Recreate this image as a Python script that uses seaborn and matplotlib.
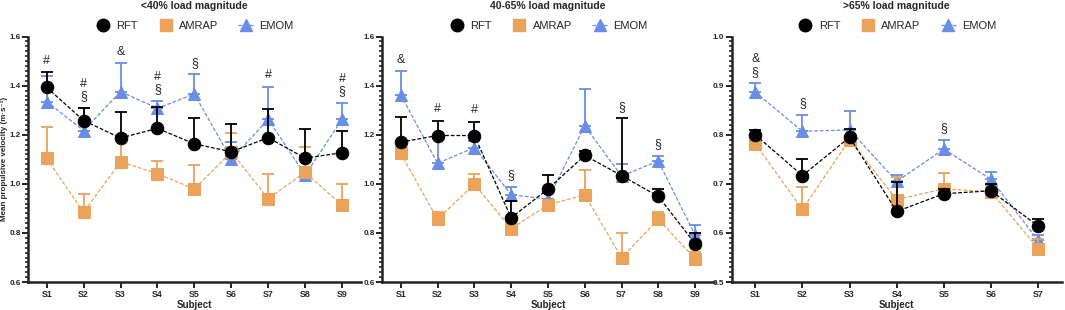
import numpy as np
import pandas as pd
import matplotlib.pyplot as plt
from matplotlib.ticker import MultipleLocator
from matplotlib.lines import Line2D
import seaborn as sns

sns.set_theme(style='ticks')
plt.rcParams['font.family'] = ['Liberation Sans', 'DejaVu Sans']

# colours
c_rft = '#000000'
c_amrap = '#EBA35C'
c_emom = '#6A8DE6'

# <40% load magnitude
subj_a = ['S1', 'S2', 'S3', 'S4', 'S5', 'S6', 'S7', 'S8', 'S9']
rft_a = [1.393, 1.258, 1.187, 1.226, 1.163, 1.131, 1.188, 1.105, 1.127]
rft_a_up = [1.455, 1.311, 1.292, 1.315, 1.268, 1.243, 1.304, 1.222, 1.215]
amrap_a = [1.104, 0.884, 1.090, 1.042, 0.979, 1.130, 0.940, 1.047, 0.913]
amrap_a_up = [1.230, 0.960, 1.180, 1.095, 1.078, 1.208, 1.042, 1.152, 1.000]
emom_a = [1.335, 1.217, 1.376, 1.308, 1.366, 1.100, 1.263, 1.036, 1.263]
emom_a_up = [1.438, 1.310, 1.491, 1.339, 1.446, 1.172, 1.396, 1.060, 1.331]
sig_a = ['#', '#\n§', '&', '#\n§', '§', '', '#', '', '#\n§']

# 40-65% load magnitude
subj_b = ['S1', 'S2', 'S3', 'S4', 'S5', 'S6', 'S7', 'S8', 'S9']
rft_b = [1.170, 1.197, 1.197, 0.862, 0.979, 1.116, 1.034, 0.949, 0.756]
rft_b_up = [1.271, 1.258, 1.254, 0.929, 1.037, 1.136, 1.267, 0.978, 0.798]
amrap_b = [1.124, 0.856, 0.999, 0.818, 0.914, 0.956, 0.699, 0.856, 0.695]
amrap_b_up = [1.150, 0.884, 1.041, 0.837, 0.935, 1.057, 0.798, 0.887, 0.723]
emom_b = [1.363, 1.084, 1.148, 0.956, 0.938, 1.236, 1.032, 1.093, 0.791]
emom_b_up = [1.459, 1.190, 1.175, 0.987, 0.965, 1.385, 1.082, 1.114, 0.831]
sig_b = ['&', '#', '#', '§', '', '', '§', '§', '']

# >65% load magnitude
subj_c = ['S1', 'S2', 'S3', 'S4', 'S5', 'S6', 'S7']
rft_c = [0.800, 0.717, 0.795, 0.644, 0.680, 0.686, 0.614]
rft_c_up = [0.810, 0.750, 0.812, 0.704, 0.690, 0.699, 0.629]
amrap_c = [0.782, 0.648, 0.790, 0.668, 0.690, 0.684, 0.568]
amrap_c_up = [0.790, 0.694, 0.800, 0.714, 0.722, 0.690, 0.587]
emom_c = [0.887, 0.807, 0.810, 0.705, 0.771, 0.709, 0.585]
emom_c_up = [0.905, 0.840, 0.849, 0.718, 0.790, 0.724, 0.595]
sig_c = ['&\n§', '§', '', '', '§', '', '']

panels = [
    ('<40% load magnitude', subj_a, rft_a, rft_a_up, amrap_a, amrap_a_up, emom_a, emom_a_up, sig_a,
     (0.6, 1.6), 0.2, 0.02),
    ('40-65% load magnitude', subj_b, rft_b, rft_b_up, amrap_b, amrap_b_up, emom_b, emom_b_up, sig_b,
     (0.6, 1.6), 0.2, 0.02),
    ('>65% load magnitude', subj_c, rft_c, rft_c_up, amrap_c, amrap_c_up, emom_c, emom_c_up, sig_c,
     (0.5, 1.0), 0.1, 0.01),
]

fig = plt.figure(figsize=(10.65, 3.1), dpi=100)
lefts = [0.0265, 0.359, 0.687]
widths = [0.312, 0.311, 0.310]

for k, (title, subj, rft, rft_up, amrap, amrap_up, emom, emom_up, sig, ylim, major, minor) in enumerate(panels):
    ax = fig.add_axes([lefts[k], 0.09, widths[k], 0.792])
    x = np.arange(len(subj))
    series = [('EMOM', emom, emom_up, c_emom, '^', 9),
              ('AMRAP', amrap, amrap_up, c_amrap, 's', 8),
              ('RFT', rft, rft_up, c_rft, 'o', 9)]
    for z, (name, vals, up, col, mk, ms) in enumerate(series):
        vals = np.array(vals)
        up = np.array(up)
        ax.errorbar(x, vals, yerr=[np.zeros_like(vals), up - vals], fmt='none', ecolor=col,
                    elinewidth=1.3, capsize=4, capthick=1.3, zorder=2 + 2 * z)
        df = pd.DataFrame({'x': x, 'y': vals})
        sns.lineplot(data=df, x='x', y='y', ax=ax, color=col, marker=mk, markersize=ms,
                     markeredgecolor=col, linestyle=(0, (3, 1.5)), linewidth=0.9,
                     zorder=3 + 2 * z)
    top = np.max([rft_up, amrap_up, emom_up], axis=0)
    for i, s in enumerate(sig):
        if s:
            ax.annotate(s, xy=(x[i], top[i]), xytext=(0, 4), textcoords='offset points',
                        ha='center', va='bottom', fontsize=9, linespacing=1.05)

    ax.set_xlim(-0.5, len(subj) - 0.5)
    ax.set_ylim(*ylim)
    ax.set_xticks(x)
    ax.set_xticklabels(subj, fontweight='bold', fontsize=6.3)
    ax.yaxis.set_major_locator(MultipleLocator(major))
    ax.yaxis.set_minor_locator(MultipleLocator(minor))
    ax.yaxis.set_major_formatter(plt.FormatStrFormatter('%.1f'))
    for lab in ax.get_yticklabels():
        lab.set_fontweight('bold')
        lab.set_fontsize(5.8)
    ax.tick_params(axis='both', which='major', length=4, width=1.4, pad=1.5, color='#222222')
    ax.tick_params(axis='y', which='minor', length=2.5, width=1.2, color='#222222')
    for sp in ['left', 'bottom']:
        ax.spines[sp].set_linewidth(1.8)
        ax.spines[sp].set_color('#222222')
    for sp in ['top', 'right']:
        ax.spines[sp].set_visible(False)
    ax.set_xlabel('Subject', fontweight='bold', fontsize=7, labelpad=1)
    if k == 0:
        ax.set_ylabel('Mean propulsive velocity (m·s⁻¹)', fontweight='bold', fontsize=5.8)
        ax.yaxis.set_label_coords(-0.06, 0.5)
    else:
        ax.set_ylabel('')
    ax.text(0.5, 1.125, title, transform=ax.transAxes, ha='center', va='center',
            fontweight='bold', fontsize=7.5)
    handles = [Line2D([], [], color=c_rft, marker='o', markersize=9, linestyle='none'),
               Line2D([], [], color=c_amrap, marker='s', markersize=8, linestyle='none'),
               Line2D([], [], color=c_emom, marker='^', markersize=9, linestyle=(0, (3, 1.5)),
                      linewidth=0.9)]
    ax.legend(handles, ['RFT', 'AMRAP', 'EMOM'], loc='center', bbox_to_anchor=(0.5, 1.045),
              ncol=3, frameon=False, fontsize=8, handlelength=1.4, columnspacing=1.8,
              handletextpad=0.5)

fig.savefig('out.png', dpi=100)
